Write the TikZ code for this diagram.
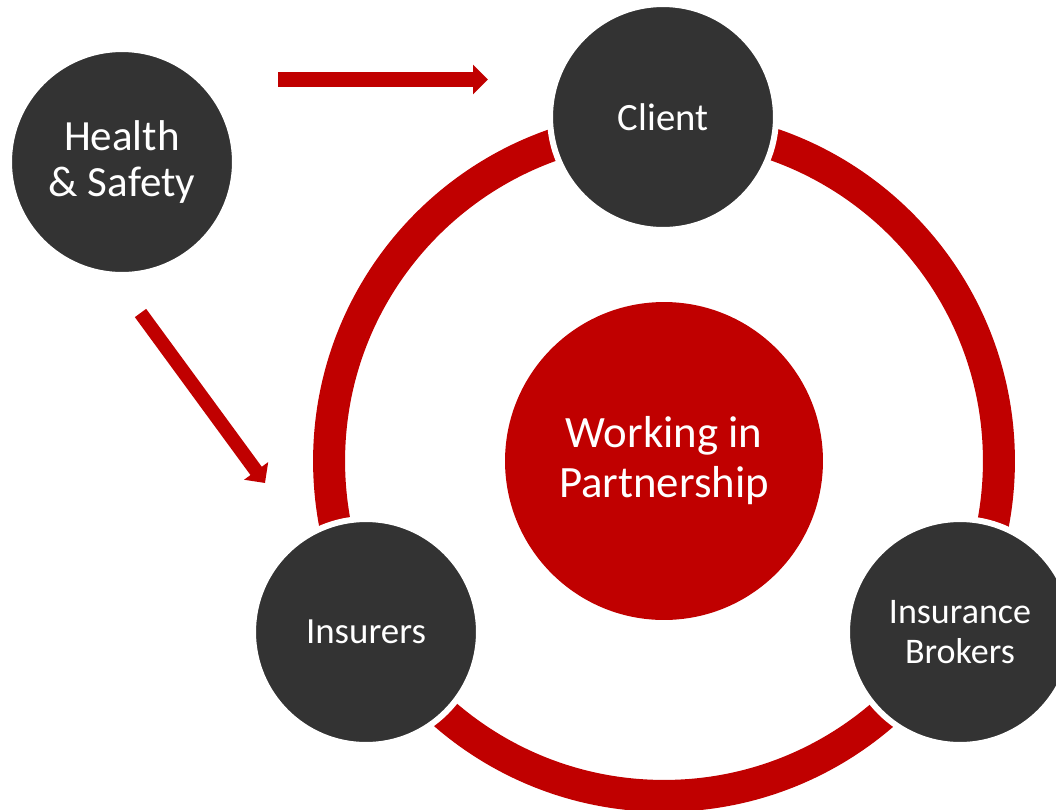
\documentclass[tikz,border=0pt]{standalone}
\usepackage{fontspec}
\setmainfont{Carlito}
\usetikzlibrary{arrows.meta}
\definecolor{ppred}{HTML}{C00000}
\definecolor{ppgrey}{HTML}{333333}
\begin{document}
\begin{tikzpicture}[x=0.02cm,y=-0.02cm,
  bubble/.style={circle,fill=ppgrey,draw=white,line width=0.12cm,minimum size=4.52cm,
    inner sep=0pt,text=white,align=center,font=\fontsize{22}{25}\selectfont},
  hub/.style={circle,fill=ppred,minimum size=6.36cm,inner sep=0pt,text=white,
    align=center,font=\fontsize{25.5}{28.5}\selectfont},
  push/.style={draw=ppred,line width=#1,-{Triangle[length=0.3cm,width=0.58cm]}}]
\useasboundingbox (0,0) rectangle (1056,809);
\clip (0,0) rectangle (1056,809);
% centre and ring
\node[hub] (hub) at (664,461) {Working in\\Partnership};
\draw[ppred,line width=0.64cm] (hub.center) circle (6.7cm);
% partners on the ring
\node[bubble] (client) at (663,117) {Client};
\node[bubble,font=\fontsize{21}{24}\selectfont] (insurers) at (366,632) {Insurers};
\node[bubble,font=\fontsize{20.5}{22.7}\selectfont] (brokers) at (960,632) {Insurance\\Brokers};
% health & safety feeds in
\node[bubble,font=\fontsize{24.5}{26}\selectfont] (hs) at (122,162) {Health\\\&~Safety};
\coordinate (toclientA) at (278,79.5);
\coordinate (toclientB) at (488,79.5);
\coordinate (toinsA) at (140.5,313);
\coordinate (toinsB) at (265,483);
\draw[push=0.3cm] (toclientA) -- (toclientB);
\draw[push=0.28cm] (toinsA) -- (toinsB);
\end{tikzpicture}
\end{document}
